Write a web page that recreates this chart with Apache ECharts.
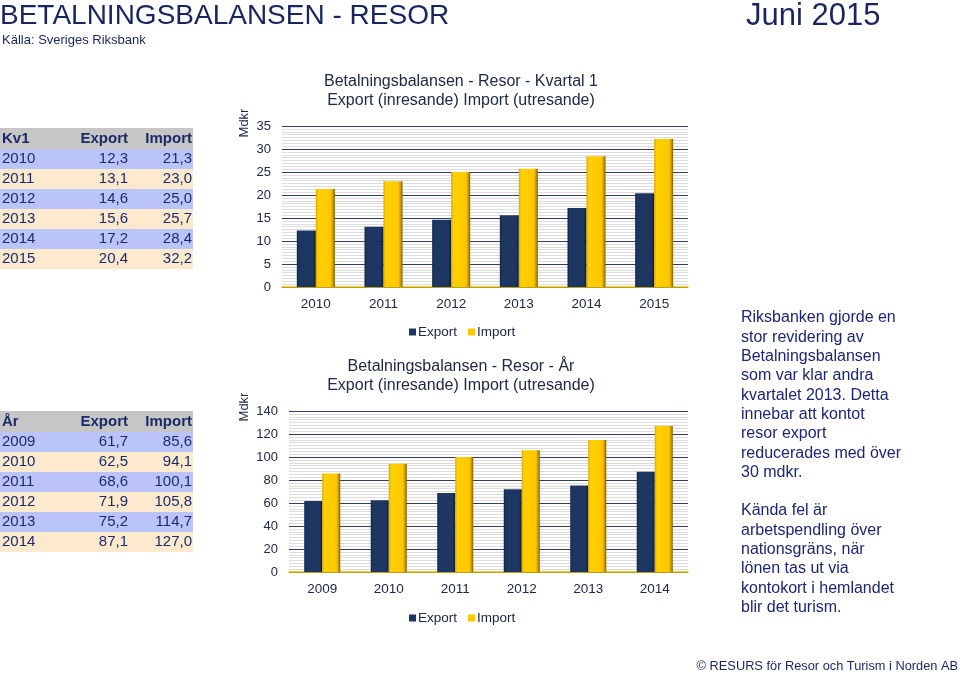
<!DOCTYPE html>
<html><head><meta charset="utf-8">
<script src="https://cdn.jsdelivr.net/npm/echarts@6/dist/echarts.min.js"></script>
<style>html,body{margin:0;padding:0;background:#fff}#c{width:960px;height:674px}</style>
</head><body><div id="c"></div>
<script>
// ---- data ----
const kvYears = ['2010','2011','2012','2013','2014','2015'];
const kvExport = [12.3,13.1,14.6,15.6,17.2,20.4];
const kvImport = [21.3,23.0,25.0,25.7,28.4,32.2];
const arYears = ['2009','2010','2011','2012','2013','2014'];
const arExport = [61.7,62.5,68.6,71.9,75.2,87.1];
const arImport = [85.6,94.1,100.1,105.8,114.7,127.0];
const kvTicksMax = 35, kvTickStep = 5;
const arTicksMax = 140, arTickStep = 20;
const noteLines = ['Riksbanken gjorde en','stor revidering av','Betalningsbalansen','som var klar andra','kvartalet 2013. Detta','innebar att kontot','resor export','reducerades med över','30 mdkr.','','Kända fel är','arbetspendling över','nationsgräns, när','lönen tas ut via','kontokort i hemlandet','blir det turism.'];

// ---- style ----
const FF = "'Liberation Sans', Arial, Helvetica, sans-serif";
const NAVY = '#18255e';
const TXT = '#1c2a6a';
const AX = '#202a44';
const fmt = v => v.toFixed(1).replace('.', ',');

const chart = echarts.init(document.getElementById('c'), null, {renderer:'canvas'});
const G = [];
function txt(x, y, s, o) {
  o = o || {};
  G.push({type:'text', x:x, y:y, rotation:o.rot||0, silent:true,
    style:{text:s, fill:o.color||NAVY, fontSize:o.size||15, fontFamily:FF, fontWeight:o.weight||'normal',
      align:o.align||'left', textAlign:o.align||'left', verticalAlign:o.va||'middle', textVerticalAlign:o.va||'middle'}});
}
function rect(x, y, w, h, c) {
  G.push({type:'rect', silent:true, shape:{x:x, y:y, width:w, height:h}, style:{fill:c}});
}

// headings
txt(0, 16, 'BETALNINGSBALANSEN - RESOR', {size:28, color:NAVY});
txt(2, 40, 'Källa: Sveriges Riksbank', {size:13, color:NAVY});
txt(746, 16, 'Juni 2015', {size:31, color:NAVY});
txt(958, 666, '© RESURS för Resor och Turism i Norden AB', {size:12.8, color:NAVY, align:'right'});

// tables
function table(top, headLabel, years, ex, im) {
  rect(0, top, 193, 21, '#c6c6c6');
  txt(2, top + 11, headLabel, {weight:'bold', color:TXT});
  txt(128, top + 11, 'Export', {weight:'bold', color:TXT, align:'right'});
  txt(192, top + 11, 'Import', {weight:'bold', color:TXT, align:'right'});
  years.forEach((y, i) => {
    const ry = top + 21 + i * 20;
    rect(0, ry, 193, 20, i % 2 === 0 ? '#bac4f8' : '#fde9cd');
    txt(2, ry + 10, y, {color:TXT});
    txt(128, ry + 10, fmt(ex[i]), {color:TXT, align:'right'});
    txt(192, ry + 10, fmt(im[i]), {color:TXT, align:'right'});
  });
}
table(128, 'Kv1', kvYears, kvExport, kvImport);
table(411, 'År', arYears, arExport, arImport);

// chart titles & axis names
txt(461, 82, 'Betalningsbalansen - Resor - Kvartal 1', {color:AX, size:16, align:'center'});
txt(461, 101, 'Export (inresande) Import (utresande)', {color:AX, size:16, align:'center'});
txt(461, 367, 'Betalningsbalansen - Resor - År', {color:AX, size:16, align:'center'});
txt(461, 386, 'Export (inresande) Import (utresande)', {color:AX, size:16, align:'center'});
txt(244, 123, 'Mdkr', {color:AX, size:13, align:'center', rot:Math.PI/2});
txt(244, 407, 'Mdkr', {color:AX, size:13, align:'center', rot:Math.PI/2});

// notes
noteLines.forEach((l, i) => { if (l) txt(741, 318 + i * 19.3, l, {color:'#1c2672', size:16}); });

const exportColor = new echarts.graphic.LinearGradient(0,0,1,0,[
  {offset:0,color:'#10224a'},{offset:0.12,color:'#1e3762'},{offset:0.85,color:'#1e3762'},{offset:1,color:'#0c1a36'}]);
const importColor = new echarts.graphic.LinearGradient(0,0,1,0,[
  {offset:0,color:'#d8a600'},{offset:0.12,color:'#ffd000'},{offset:0.78,color:'#ffc800'},{offset:0.9,color:'#c99a00'},{offset:1,color:'#7a5c00'}]);

function yAx(gi, max, step) {
  return {type:'value', gridIndex:gi, min:0, max:max, interval:step,
    axisLine:{show:false}, axisTick:{show:false},
    axisLabel:{color:AX, fontSize:13, fontFamily:FF, margin:11},
    splitLine:{lineStyle:{color:'#34405a', width:1}},
    minorTick:{show:false, splitNumber:8},
    minorSplitLine:{show:true, lineStyle:{color:'#dcdcdc', width:1}}};
}
function xAx(gi, cats) {
  return {type:'category', gridIndex:gi, data:cats,
    axisLine:{lineStyle:{color:'#e8bf00', width:1.5}}, axisTick:{show:false},
    axisLabel:{color:AX, fontSize:13.5, fontFamily:FF, margin:10}};
}
function bars(gi, name, data, color, w) {
  return {type:'bar', name:name, xAxisIndex:gi, yAxisIndex:gi, data:data, barWidth:w, barGap:'0%',
    itemStyle:{color:color}, silent:true, animation:false};
}
const legendCommon = {icon:'rect', itemWidth:7, itemHeight:7, itemGap:11, padding:0,
  textStyle:{color:AX, fontSize:13.5, fontFamily:FF, padding:[0,0,0,-3]},
  data:[{name:'Export', itemStyle:{color:'#1e3762'}},{name:'Import', itemStyle:{color:'#ffc800'}}]};

chart.setOption({
  animation:false,
  textStyle:{fontFamily:FF},
  grid:[{left:282, right:272, top:126, bottom:387},{left:289, right:272, top:411, bottom:102}],
  xAxis:[xAx(0, kvYears), xAx(1, arYears)],
  yAxis:[yAx(0, kvTicksMax, kvTickStep), yAx(1, arTicksMax, arTickStep)],
  legend:[Object.assign({left:409, top:325}, legendCommon), Object.assign({left:409, top:611}, legendCommon)],
  series:[
    bars(0,'Export',kvExport,exportColor,19), bars(0,'Import',kvImport,importColor,19),
    bars(1,'Export',arExport,exportColor,18), bars(1,'Import',arImport,importColor,18)
  ],
  graphic:G
});
</script></body></html>
